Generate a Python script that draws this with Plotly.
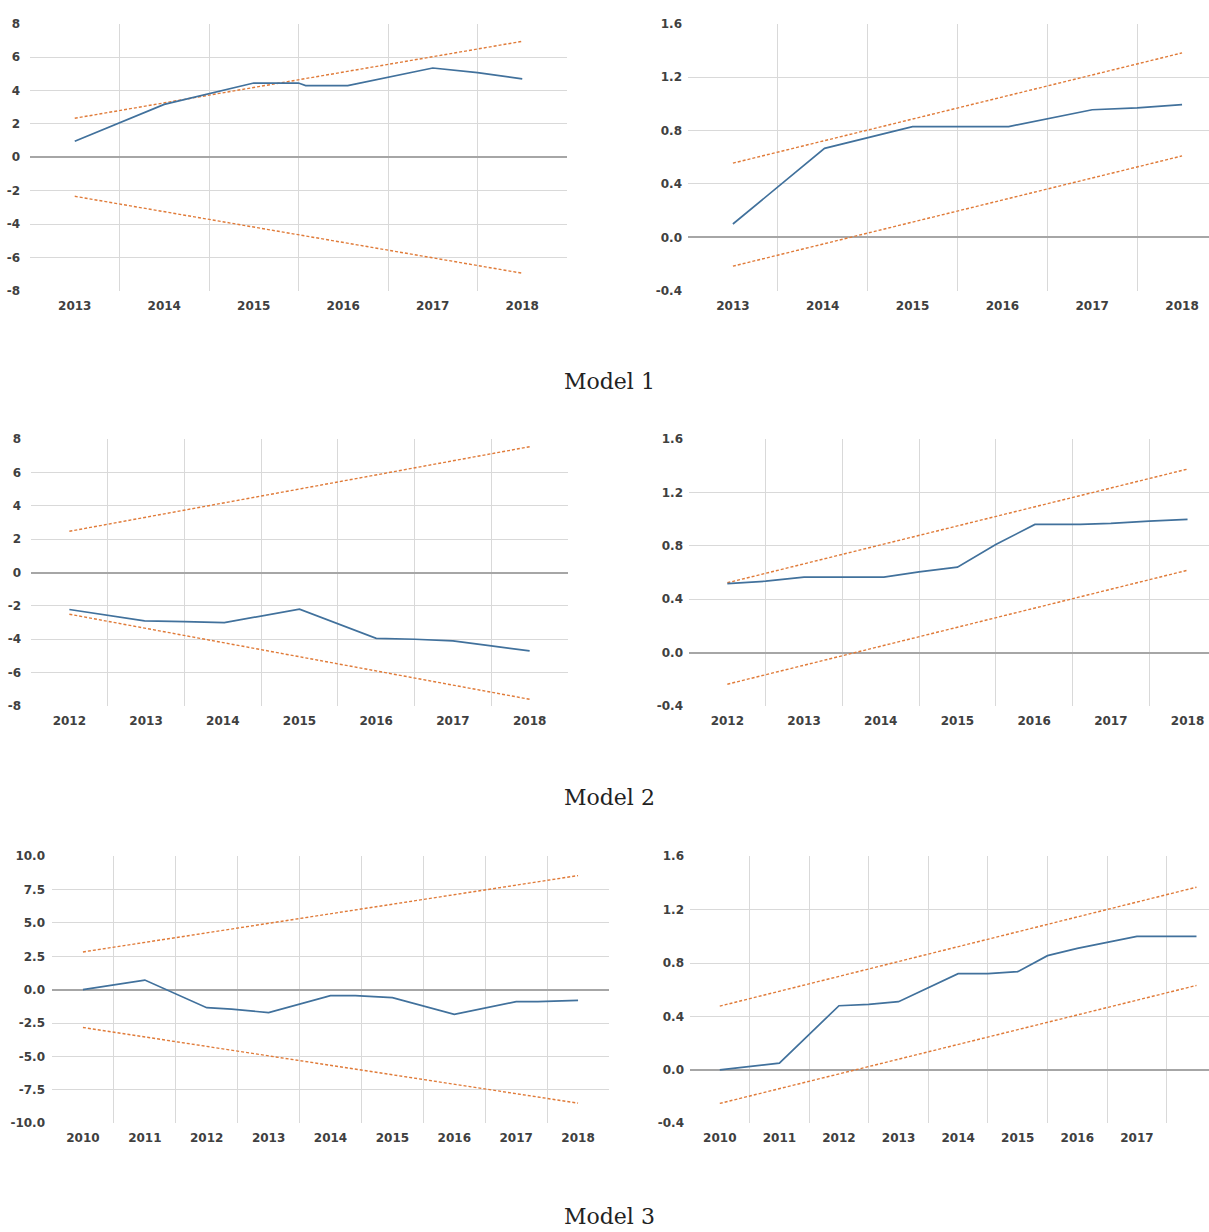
import plotly.graph_objects as go

W, H = 1209, 1232

# ---------------- data ----------------
# Model 1 - CUSUM
m1_cusum_x = [2013.0, 2014.0, 2015.0, 2015.5, 2015.58, 2016.05, 2017.0, 2017.5, 2018.0]
m1_cusum_y = [0.96, 3.17, 4.45, 4.45, 4.3, 4.3, 5.35, 5.07, 4.7]
m1_cusum_bx = [2013.0, 2018.0]
m1_cusum_up = [2.34, 6.95]
m1_cusum_lo = [-2.34, -6.95]
# Model 1 - CUSUM of squares
m1_sq_x = [2013.0, 2014.02, 2015.0, 2016.07, 2017.0, 2017.5, 2018.0]
m1_sq_y = [0.10, 0.667, 0.83, 0.83, 0.956, 0.97, 0.995]
m1_sq_bx = [2013.0, 2018.0]
m1_sq_up = [0.556, 1.382]
m1_sq_lo = [-0.216, 0.61]

# Model 2 - CUSUM
m2_cusum_x = [2012.0, 2012.98, 2013.5, 2014.02, 2015.0, 2016.0, 2016.5, 2017.0, 2017.5, 2018.0]
m2_cusum_y = [-2.22, -2.9, -2.95, -3.0, -2.2, -3.95, -4.0, -4.1, -4.4, -4.7]
m2_cusum_bx = [2012.0, 2018.0]
m2_cusum_up = [2.47, 7.54]
m2_cusum_lo = [-2.5, -7.6]
# Model 2 - CUSUM of squares
m2_sq_x = [2012.0, 2012.5, 2013.0, 2014.04, 2014.5, 2015.0, 2015.5, 2016.01, 2016.6, 2017.0, 2017.5, 2018.0]
m2_sq_y = [0.516, 0.535, 0.565, 0.565, 0.605, 0.64, 0.81, 0.96, 0.96, 0.968, 0.985, 0.998]
m2_sq_bx = [2012.0, 2018.0]
m2_sq_up = [0.523, 1.375]
m2_sq_lo = [-0.237, 0.617]

# Model 3 - CUSUM
m3_cusum_x = [2010.0, 2011.0, 2012.0, 2012.4, 2013.0, 2014.0, 2014.4, 2015.0, 2016.0, 2017.0, 2017.35, 2018.0]
m3_cusum_y = [0.0, 0.72, -1.35, -1.45, -1.72, -0.45, -0.45, -0.6, -1.85, -0.9, -0.9, -0.8]
m3_cusum_bx = [2010.0, 2018.0]
m3_cusum_up = [2.83, 8.55]
m3_cusum_lo = [-2.83, -8.5]
# Model 3 - CUSUM of squares
m3_sq_x = [2010.0, 2010.6, 2011.0, 2012.0, 2012.5, 2013.0, 2014.0, 2014.5, 2015.0, 2015.5, 2016.0, 2016.5, 2017.0, 2018.0]
m3_sq_y = [0.0, 0.03, 0.05, 0.48, 0.49, 0.51, 0.72, 0.72, 0.735, 0.855, 0.91, 0.955, 1.0, 1.0]
m3_sq_bx = [2010.0, 2018.0]
m3_sq_up = [0.477, 1.368]
m3_sq_lo = [-0.252, 0.632]

model_titles = ["Model 1", "Model 2", "Model 3"]

# ---------------- styling ----------------
BLUE = "#41719C"
ORANGE = "#E07B39"
GRID = "#d9d9d9"
ZERO = "#a6a6a6"
TICKFONT = dict(family="DejaVu Sans", size=12, color="#404040", weight="bold")

fig = go.Figure()

panels = [
    dict(px=(30, 567), py=(17, 287), xr=(2012.5, 2018.5), yr=(-8, 8), dt=2, fmt="d", so=9,
         x=m1_cusum_x, y=m1_cusum_y, bx=m1_cusum_bx, up=m1_cusum_up, lo=m1_cusum_lo),
    dict(px=(688, 1209), py=(17, 287), xr=(2012.5, 2018.30), yr=(-0.4, 1.6), dt=0.4, fmt=".1f", so=5,
         x=m1_sq_x, y=m1_sq_y, bx=m1_sq_bx, up=m1_sq_up, lo=m1_sq_lo),
    dict(px=(31, 568), py=(437, 707), xr=(2011.5, 2018.5), yr=(-8, 8), dt=2, fmt="d", so=9,
         x=m2_cusum_x, y=m2_cusum_y, bx=m2_cusum_bx, up=m2_cusum_up, lo=m2_cusum_lo),
    dict(px=(689, 1209), py=(437, 707), xr=(2011.5, 2018.28), yr=(-0.4, 1.6), dt=0.4, fmt=".1f", so=5,
         x=m2_sq_x, y=m2_sq_y, bx=m2_sq_bx, up=m2_sq_up, lo=m2_sq_lo),
    dict(px=(52, 609), py=(859, 1129), xr=(2009.5, 2018.5), yr=(-10, 10), dt=2.5, fmt=".1f", so=6,
         x=m3_cusum_x, y=m3_cusum_y, bx=m3_cusum_bx, up=m3_cusum_up, lo=m3_cusum_lo),
    dict(px=(690, 1209), py=(859, 1129), xr=(2009.5, 2018.21), yr=(-0.4, 1.6), dt=0.4, fmt=".1f", so=5,
         x=m3_sq_x, y=m3_sq_y, bx=m3_sq_bx, up=m3_sq_up, lo=m3_sq_lo),
]

layout_axes = {}
for i, p in enumerate(panels):
    n = i + 1
    xa = "x" if n == 1 else f"x{n}"
    ya = "y" if n == 1 else f"y{n}"
    xkey = "xaxis" if n == 1 else f"xaxis{n}"
    ykey = "yaxis" if n == 1 else f"yaxis{n}"

    for by in (p["up"], p["lo"]):
        fig.add_trace(go.Scatter(x=p["bx"], y=by, mode="lines", xaxis=xa, yaxis=ya,
                                 line=dict(color=ORANGE, width=1.4, dash="3px,2px"),
                                 hoverinfo="skip"))
    fig.add_trace(go.Scatter(x=p["x"], y=p["y"], mode="lines", xaxis=xa, yaxis=ya,
                             line=dict(color=BLUE, width=1.7)))

    x0, x1 = p["px"]
    yt, yb = p["py"]
    years = list(range(int(p["xr"][0] + 0.5), int(p["xr"][1]) + 1))
    bounds = [yr + 0.5 for yr in years[:-1]]
    layout_axes[xkey] = dict(
        domain=[x0 / W, x1 / W], anchor=ya, range=list(p["xr"]),
        tickmode="array", tickvals=years, ticktext=[str(v) for v in years],
        showgrid=False, zeroline=False, showline=False, ticks="",
        tickfont=TICKFONT, ticklabelstandoff=6,
        minor=dict(tickvals=bounds, showgrid=True, gridcolor=GRID, gridwidth=1, ticks=""),
        fixedrange=True,
    )
    nt = int(round((p["yr"][1] - p["yr"][0]) / p["dt"]))
    yvals = [p["yr"][0] + k * p["dt"] for k in range(nt + 1)]
    layout_axes[ykey] = dict(
        domain=[1 - yb / H, 1 - yt / H], anchor=xa, range=list(p["yr"]),
        tickmode="array", tickvals=yvals,
        ticktext=[(f"{v:.1f}" if p["fmt"] == ".1f" else f"{int(round(v))}") for v in yvals],
        showgrid=True, gridcolor=GRID, gridwidth=1,
        zeroline=True, zerolinecolor=ZERO, zerolinewidth=1.5,
        showline=False, ticks="", tickfont=TICKFONT, ticklabelstandoff=p["so"],
        fixedrange=True,
    )

annotations = []
for t, yc in zip(model_titles, [379, 800, 1223]):
    annotations.append(dict(text=t, x=609 / W, y=1 - yc / H, xref="paper", yref="paper",
                            showarrow=False, xanchor="center", yanchor="middle",
                            font=dict(family="DejaVu Serif", size=22, color="#222222")))

fig.update_layout(
    width=W, height=H, margin=dict(l=0, r=0, t=0, b=0),
    paper_bgcolor="white", plot_bgcolor="white", showlegend=False,
    annotations=annotations, **layout_axes,
)

fig.write_html("out.html", config={"displayModeBar": False},
               post_script="document.body.style.margin='0';document.body.style.overflow='hidden';")
